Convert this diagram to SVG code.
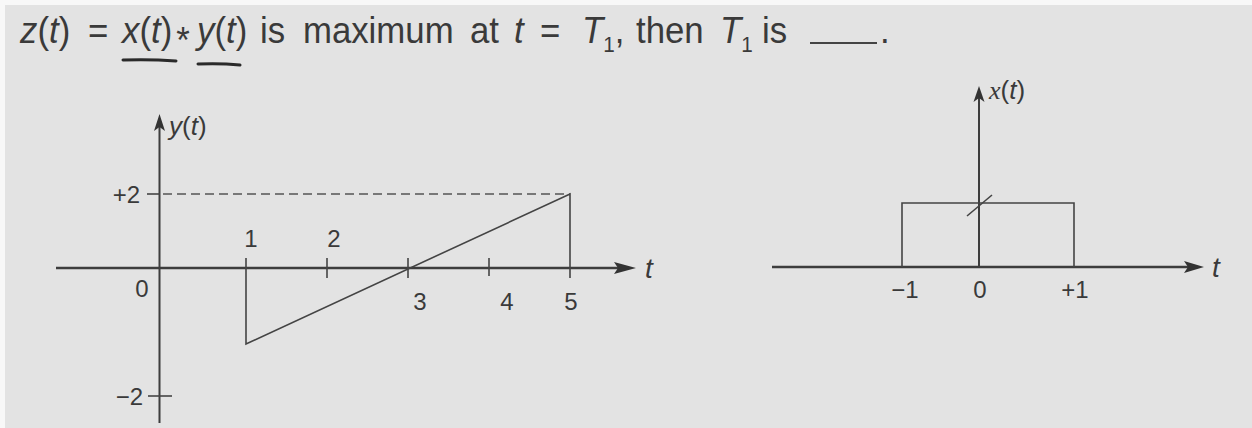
<svg xmlns="http://www.w3.org/2000/svg" width="1252" height="428" viewBox="0 0 1252 428">
  <style>
    text { font-family: "Liberation Sans", Arial, sans-serif; fill: #3a3a3a; }
    .t { font-size: 37px; }
    .lbl { font-size: 24px; }
    .it { font-style: italic; }
    .ser { font-family: "Liberation Serif", "Times New Roman", serif; }
    .axis { stroke: #3d3d3d; stroke-width: 2.4; fill: none; }
    .yaxis { stroke: #3d3d3d; stroke-width: 2; fill: none; }
    .sig { stroke: #444; stroke-width: 1.6; fill: none; }
    .tick { stroke: #444; stroke-width: 1.6; }
    .dash { stroke: #555; stroke-width: 1.5; stroke-dasharray: 9 5; fill: none; }
    .ul { stroke: #2a2a2a; stroke-width: 3; fill: none; stroke-linecap: round; }
    .ah { fill: #333; }
  </style>
  <rect x="0" y="0" width="1252" height="428" fill="#e3e3e3"/>
  <rect x="0" y="0" width="1252" height="5" fill="#f8f8f8"/>
  <rect x="0" y="0" width="5" height="428" fill="#f8f8f8"/>

  <g id="title">
    <text class="t" y="43" transform="scale(0.94,1)">
      <tspan x="21.3" class="it">z</tspan><tspan>(</tspan><tspan class="it">t</tspan><tspan>)</tspan>
      <tspan x="93.6">=</tspan>
      <tspan x="129.8" class="it">x</tspan><tspan>(</tspan><tspan class="it">t</tspan><tspan>)</tspan><tspan x="187.5" dy="10">*</tspan><tspan x="209.6" dy="-10" class="it">y</tspan><tspan>(</tspan><tspan class="it">t</tspan><tspan>)</tspan>
      <tspan x="276.6">is</tspan>
      <tspan x="322.3">maximum</tspan>
      <tspan x="500">at</tspan>
      <tspan x="546.8" class="it">t</tspan>
      <tspan x="574.5">=</tspan>
      <tspan x="619.1" class="it">T</tspan><tspan style="font-size:22px" dy="9">1</tspan><tspan dy="-9">,</tspan>
      <tspan x="676.6">then</tspan>
      <tspan x="766" class="it">T</tspan><tspan style="font-size:22px" dy="9">1</tspan>
      <tspan x="810.6" dy="-9">is</tspan>
      <tspan x="936.2">.</tspan>
    </text>
    <line x1="810" y1="43" x2="877" y2="43" stroke="#444" stroke-width="2"/>
    <path class="ul" d="M123,60 Q150,59 176,61"/>
    <path class="ul" d="M198,64 Q220,63 240,65"/>
  </g>

  <g id="graph-y">
    <g id="y-axes">
      <line class="axis" x1="56" y1="268" x2="622" y2="268"/>
      <polygon class="ah" points="636,268 614,262 618,268 614,274"/>
      <line class="yaxis" x1="159.5" y1="125" x2="159.5" y2="423"/>
      <polygon class="ah" points="159.5,114 154,131 159.5,127 165,131"/>
      <text x="645" y="278" style="font-size:28px"><tspan class="it">t</tspan></text>
      <text x="169" y="135" style="font-size:26px"><tspan class="it">y</tspan>(<tspan class="it">t</tspan>)</text>
    </g>
    <g id="y-ticks">
      <line class="tick" x1="147" y1="194" x2="160" y2="194"/>
      <line class="tick" x1="148" y1="396" x2="172" y2="396"/>
      <line class="tick" x1="327" y1="258" x2="327" y2="278"/>
      <line class="tick" x1="408" y1="258" x2="408" y2="278"/>
      <line class="tick" x1="489" y1="258" x2="489" y2="276"/>
    </g>
    <line class="dash" x1="163" y1="194" x2="570" y2="194"/>
    <path id="y-signal" class="sig" d="M246,258 L246,344 L570,194 L570,278"/>
    <g id="y-labels">
      <text class="lbl" x="140" y="203" text-anchor="end">+2</text>
      <text class="lbl" x="143" y="405" text-anchor="end">−2</text>
      <text class="lbl" x="142" y="297" text-anchor="middle">0</text>
      <text class="lbl" x="251" y="247" text-anchor="middle">1</text>
      <text class="lbl" x="334" y="247" text-anchor="middle">2</text>
      <text class="lbl" x="420" y="310" text-anchor="middle">3</text>
      <text class="lbl" x="507" y="310" text-anchor="middle">4</text>
      <text class="lbl" x="571" y="310" text-anchor="middle">5</text>
    </g>
  </g>

  <g id="graph-x">
    <g id="x-axes">
      <line class="axis" x1="772" y1="267" x2="1192" y2="267"/>
      <polygon class="ah" points="1204,267 1184,261 1188,267 1184,273"/>
      <line class="yaxis" x1="979" y1="96" x2="979" y2="267"/>
      <polygon class="ah" points="979,86 973.5,102 979,98 984.5,102"/>
      <text x="1212" y="277" style="font-size:28px"><tspan class="it">t</tspan></text>
      <text x="989" y="99" style="font-size:26px"><tspan class="it ser">x</tspan>(<tspan class="it">t</tspan>)</text>
    </g>
    <path id="x-signal" class="sig" d="M902,267 L902,203 L1074,203 L1074,267"/>
    <line class="sig" x1="967" y1="216" x2="992" y2="195"/>
    <g id="x-labels">
      <text class="lbl" x="905" y="298" text-anchor="middle">−1</text>
      <text class="lbl" x="980" y="298" text-anchor="middle">0</text>
      <text class="lbl" x="1075" y="298" text-anchor="middle">+1</text>
    </g>
  </g>
</svg>
